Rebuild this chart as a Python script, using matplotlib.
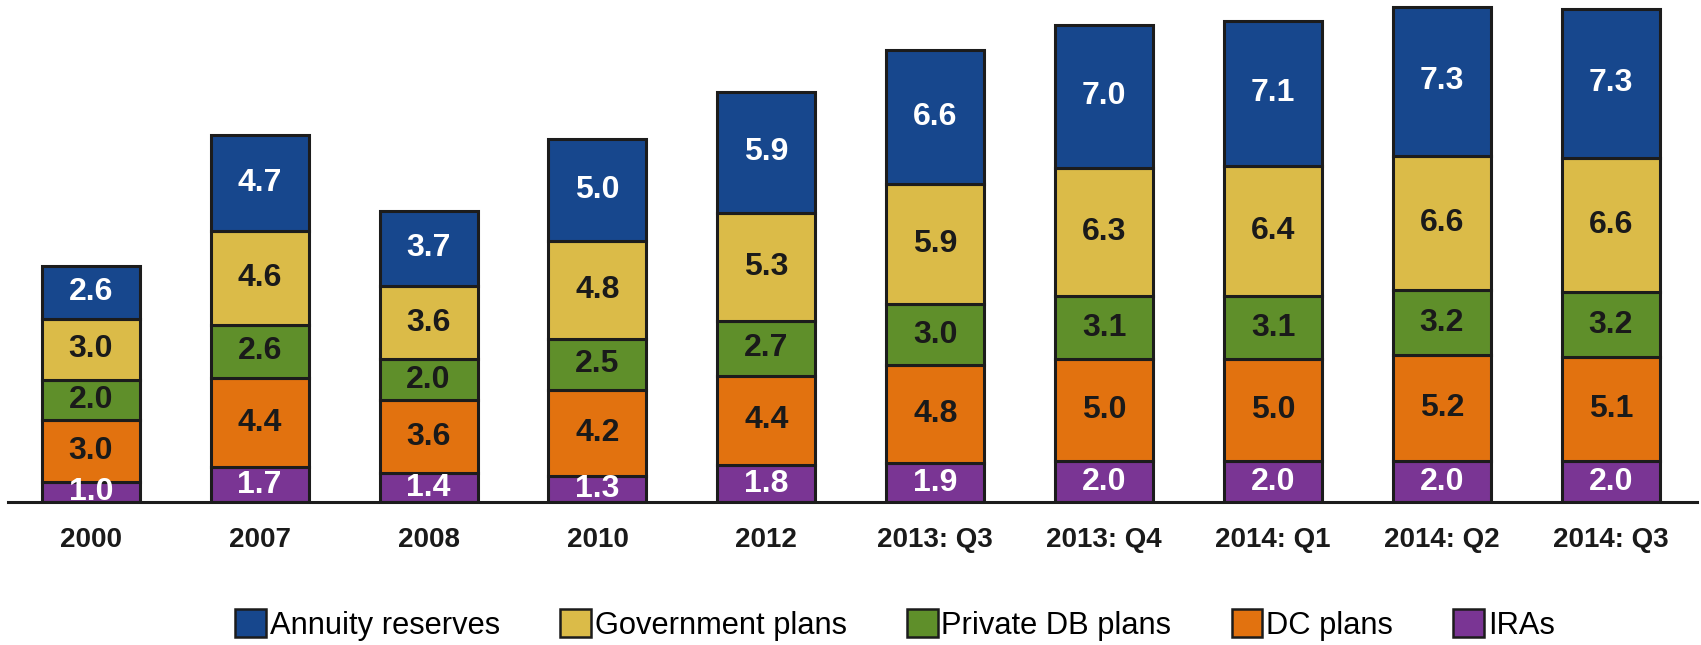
import matplotlib
matplotlib.use("Agg")
import matplotlib.pyplot as plt
import numpy as np
from matplotlib.patches import Patch

plt.rcParams['font.family'] = ['Liberation Sans', 'DejaVu Sans']

periods = ["2000", "2007", "2008", "2010", "2012", "2013: Q3", "2013: Q4",
           "2014: Q1", "2014: Q2", "2014: Q3"]

iras = [1.0, 1.7, 1.4, 1.3, 1.8, 1.9, 2.0, 2.0, 2.0, 2.0]
dc_plans = [3.0, 4.4, 3.6, 4.2, 4.4, 4.8, 5.0, 5.0, 5.2, 5.1]
private_db = [2.0, 2.6, 2.0, 2.5, 2.7, 3.0, 3.1, 3.1, 3.2, 3.2]
government = [3.0, 4.6, 3.6, 4.8, 5.3, 5.9, 6.3, 6.4, 6.6, 6.6]
annuity = [2.6, 4.7, 3.7, 5.0, 5.9, 6.6, 7.0, 7.1, 7.3, 7.3]

series = [
    ("IRAs", iras, "#7a3594", "white"),
    ("DC plans", dc_plans, "#e2720f", "#1a1a1a"),
    ("Private DB plans", private_db, "#5f8f2a", "#1a1a1a"),
    ("Government plans", government, "#dbbb48", "#1a1a1a"),
    ("Annuity reserves", annuity, "#17478d", "white"),
]

edge = "#1c1c1c"

fig = plt.figure(figsize=(17.01, 6.45), dpi=100)
ax = fig.add_axes([8 / 1701, (645 - 502) / 645, (1697 - 8) / 1701, 502 / 645])

x = np.arange(len(periods))
bottom = np.zeros(len(periods))
for name, vals, color, tcolor in series:
    vals = np.array(vals)
    ax.bar(x, vals, width=0.58, bottom=bottom, color=color, edgecolor=edge,
           linewidth=2.2, zorder=2)
    for xi, b, v in zip(x, bottom, vals):
        ax.text(xi, b + v / 2, f"{v:.1f}", ha="center", va="center",
                fontsize=23, fontweight="bold", color=tcolor, zorder=3)
    bottom += vals

ax.set_xlim(-0.49, 9.51)
ax.set_ylim(0, 24.63)
for s in ["top", "right", "left"]:
    ax.spines[s].set_visible(False)
ax.spines["bottom"].set_linewidth(2.2)
ax.spines["bottom"].set_color(edge)
ax.spines["bottom"].set_zorder(4)
ax.set_yticks([])
ax.set_xticks(x)
ax.set_xticklabels(periods, fontsize=20, fontweight="bold", color="#1a1a1a")
ax.tick_params(axis="x", length=0, pad=18)

legend_order = ["Annuity reserves", "Government plans", "Private DB plans",
                "DC plans", "IRAs"]
colors = {name: c for name, _, c, _ in series}
handles = [Patch(facecolor=colors[n], edgecolor=edge, linewidth=1.8, label=n)
           for n in legend_order]
fig.legend(handles=handles, loc="center", bbox_to_anchor=(895 / 1701, 1 - 625 / 645),
           ncol=5, frameon=False, fontsize=22.2,
           handlelength=1.0, handleheight=1.0,
           handletextpad=0.12, columnspacing=1.95)

fig.savefig("out.png", dpi=100)
